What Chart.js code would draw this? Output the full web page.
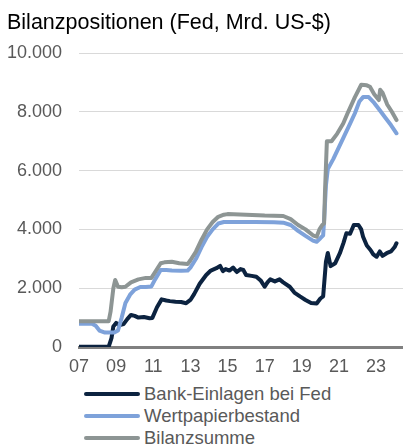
<!DOCTYPE html>
<html>
<head>
<meta charset="utf-8">
<script src="https://cdn.jsdelivr.net/npm/chart.js@4"></script>
<style>
    body { margin: 0; background: #fff; font-family: "Liberation Sans", Arial, sans-serif; }
    #wrap { position: relative; width: 403px; height: 445px; overflow: hidden; }
    #title { position: absolute; left: 7px; top: 10px; font-size: 21.5px; color: #000; white-space: nowrap; }
    #box { position: absolute; left: 0; top: 0; width: 403px; height: 380px; }
    #legend { position: absolute; left: 84px; top: 383px; font-size: 18.5px; color: #595959; }
    .item { display: flex; align-items: center; height: 22px; white-space: nowrap; }
    .swatch { width: 56px; height: 4.5px; border-radius: 2px; margin-right: 4px; }
</style>
</head>
<body>
<div id="wrap">
    <div id="box"><canvas id="chart"></canvas></div>
    <div id="title">Bilanzpositionen (Fed, Mrd. US-$)</div>
    <div id="legend"></div>
</div>
<script>
// Jahresangaben (Dezimaljahr) und Werte in Mrd. US-$
const einlagenJahre = [2007.0, 2008.6, 2008.75, 2008.85, 2009.0, 2009.2, 2009.4, 2009.6, 2009.8, 2010.0, 2010.2, 2010.5, 2010.8, 2010.95,
    2011.2, 2011.45, 2011.7, 2011.9, 2012.2, 2012.5, 2012.77, 2013.0, 2013.2, 2013.5, 2013.85, 2014.1, 2014.4, 2014.6, 2014.75, 2014.9,
    2015.1, 2015.3, 2015.5, 2015.7, 2015.85, 2016.0, 2016.3, 2016.55, 2016.8, 2017.0, 2017.15, 2017.3, 2017.55, 2017.8, 2018.0, 2018.35,
    2018.6, 2018.9, 2019.2, 2019.5, 2019.8, 2020.0, 2020.15, 2020.3, 2020.4, 2020.55, 2020.8, 2021.05, 2021.25, 2021.4, 2021.6, 2021.8,
    2022.05, 2022.2, 2022.3, 2022.5, 2022.7, 2022.85, 2023.03, 2023.2, 2023.35, 2023.57, 2023.8, 2024.0, 2024.1];
const einlagenWerte = [10, 10, 300, 700, 820, 750, 780, 950, 1090, 1060, 1000, 1020, 980, 990,
    1350, 1620, 1580, 1560, 1540, 1530, 1490, 1600, 1800, 2150, 2450, 2600, 2680, 2760, 2580, 2650,
    2600, 2700, 2550, 2650, 2620, 2450, 2420, 2390, 2250, 2050, 2200, 2300, 2230, 2300, 2200, 2050,
    1850, 1720, 1600, 1500, 1480, 1650, 1720, 2900, 3200, 2750, 2850, 3190, 3550, 3870, 3850, 4150,
    4150, 4000, 3750, 3450, 3300, 3150, 3070, 3250, 3100, 3190, 3250, 3400, 3530];

const wertpapierJahre = [2007.0, 2007.7, 2007.9, 2008.1, 2008.4, 2008.9, 2009.1, 2009.3, 2009.5, 2009.75, 2010.0, 2010.3, 2010.6, 2010.9,
    2011.1, 2011.4, 2011.7, 2012.0, 2012.5, 2012.85, 2013.0, 2013.3, 2013.6, 2013.9, 2014.2, 2014.5, 2014.8, 2015.5, 2016.5, 2017.5,
    2018.0, 2018.4, 2018.8, 2019.2, 2019.6, 2019.8, 2020.0, 2020.15, 2020.2, 2020.3, 2020.4, 2020.7, 2021.0, 2021.3, 2021.6, 2021.86,
    2022.1, 2022.3, 2022.6, 2022.9, 2023.2, 2023.5, 2023.8, 2024.1];
const wertpapierWerte = [790, 790, 720, 560, 490, 490, 560, 1000, 1500, 1780, 1950, 2040, 2040, 2060,
    2300, 2620, 2620, 2600, 2590, 2600, 2700, 3000, 3400, 3750, 4000, 4200, 4250, 4250, 4250, 4240,
    4230, 4150, 3950, 3780, 3620, 3580, 3700, 3800, 4300, 5500, 6050, 6400, 6800, 7200, 7600, 7950,
    8350, 8500, 8500, 8300, 8050, 7800, 7550, 7270];

const summeJahre = [2007.0, 2008.6, 2008.7, 2008.85, 2008.95, 2009.1, 2009.3, 2009.5, 2009.8, 2010.2, 2010.6, 2010.9,
    2011.1, 2011.4, 2011.6, 2012.0, 2012.4, 2012.85, 2013.0, 2013.3, 2013.6, 2013.9, 2014.2, 2014.5, 2014.8, 2015.0,
    2016.0, 2017.0, 2018.0, 2018.4, 2018.8, 2019.2, 2019.6, 2019.8, 2019.95, 2020.1, 2020.2, 2020.25, 2020.35, 2020.6,
    2020.9, 2021.23, 2021.5, 2021.86, 2022.2, 2022.5, 2022.67, 2022.9, 2023.15, 2023.22, 2023.35, 2023.6, 2023.85, 2024.1];
const summeWerte = [880, 880, 1200, 2000, 2280, 2050, 2030, 2050, 2200, 2300, 2350, 2350,
    2550, 2850, 2880, 2900, 2850, 2820, 2950, 3250, 3650, 4000, 4250, 4430, 4500, 4520,
    4500, 4470, 4455, 4350, 4150, 4000, 3800, 3750, 4000, 4150, 4200, 5300, 7000, 7000,
    7250, 7600, 8000, 8500, 8920, 8900, 8850, 8600, 8400, 8750, 8650, 8250, 8000, 7720];

const xTicks = [2007, 2009, 2011, 2013, 2015, 2017, 2019, 2021, 2023];
const yTicks = [0, 2000, 4000, 6000, 8000, 10000];

function toPoints(jahre, werte) {
    return jahre.map((j, i) => ({ x: j, y: werte[i] }));
}

function formatTausend(value) {
    return String(value).replace(/\B(?=(\d{3})+(?!\d))/g, '.');
}

const serien = [
    { label: 'Bank-Einlagen bei Fed', data: toPoints(einlagenJahre, einlagenWerte), color: '#0c2340' },
    { label: 'Wertpapierbestand', data: toPoints(wertpapierJahre, wertpapierWerte), color: '#7ea2da' },
    { label: 'Bilanzsumme', data: toPoints(summeJahre, summeWerte), color: '#8d9594' }
];

const ctx = document.getElementById('chart').getContext('2d');
const chart = new Chart(ctx, {
    type: 'line',
    data: {
        // Bilanzsumme zuerst zeichnen, damit die anderen Linien darüber liegen
        datasets: serien.map((s, i) => ({
            label: s.label,
            data: s.data,
            borderColor: s.color,
            backgroundColor: s.color,
            borderWidth: 4,
            pointRadius: 0,
            tension: 0,
            borderCapStyle: 'round',
            borderJoinStyle: 'round',
            order: serien.length - i
        }))
    },
    options: {
        responsive: true,
        maintainAspectRatio: false,
        animation: false,
        layout: { padding: { top: 53, left: 0, right: 0, bottom: 0 } },
        plugins: {
            legend: { display: false },
            tooltip: { enabled: false }
        },
        scales: {
            x: {
                type: 'linear',
                min: 2007,
                max: 2024.45,
                afterBuildTicks: function(axis) {
                    axis.ticks = xTicks.map(v => ({ value: v }));
                },
                afterFit: function(axis) { axis.height = 33; },
                grid: { display: false, drawTicks: false },
                border: { display: true, color: '#808080', width: 3 },
                ticks: {
                    padding: 9,
                    maxRotation: 0,
                    autoSkip: false,
                    color: '#595959',
                    font: { family: 'Liberation Sans', size: 18 },
                    callback: v => String(v).slice(2)
                }
            },
            y: {
                min: 0,
                max: 10000,
                afterBuildTicks: function(axis) {
                    axis.ticks = yTicks.map(v => ({ value: v }));
                },
                afterFit: function(axis) { axis.width = 79; },
                grid: { color: ctx => ctx.tick && ctx.tick.value === 0 ? 'rgba(0,0,0,0)' : '#d9d9d9', lineWidth: 1, drawTicks: false },
                border: { display: false },
                ticks: {
                    padding: 17,
                    color: '#595959',
                    font: { family: 'Liberation Sans', size: 18 },
                    callback: v => formatTausend(v)
                }
            }
        }
    }
});

// Legende untereinander wie im Original
const legend = document.getElementById('legend');
serien.forEach(s => {
    const row = document.createElement('div');
    row.className = 'item';
    row.innerHTML = `<span class="swatch" style="background:${s.color}"></span><span>${s.label}</span>`;
    legend.appendChild(row);
});
</script>
</body>
</html>
